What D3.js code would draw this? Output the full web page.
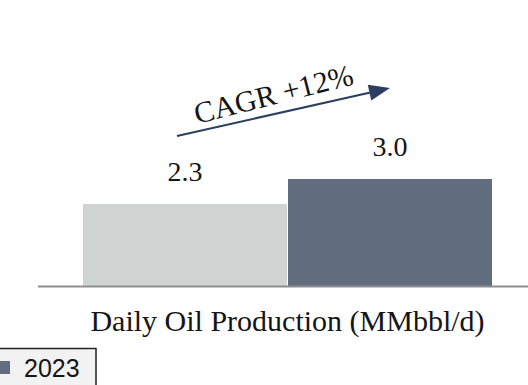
<!DOCTYPE html>
<html><head><meta charset="utf-8">
<script src="https://cdn.jsdelivr.net/npm/d3@7"></script>
<style>body{margin:0;background:#fff} svg{display:block}</style>
</head><body>
<svg id="chart" width="528" height="385"></svg>
<script>
// Daily oil production, two years side by side in one category
const categories = ["Daily Oil Production (MMbbl/d)"];
const years = ["2022", "2023"];
const values = [2.3, 3.0];
const valueLabels = ["2.3", "3.0"];
const barColors = ["#cfd3d2", "#626e80"];
const cagrText = "CAGR +12%";
const legendYears = ["2023"];

const svg = d3.select("#chart");
const W = 528, H = 385;
const serif = "'Liberation Serif', 'DejaVu Serif', serif";
const ink = "#151515";
const arrowColor = "#2b3f60";

const x = d3.scaleBand().domain(years).range([83, 492]).paddingInner(0.005);
const y = d3.scaleLinear().domain([0, 3.0]).range([286, 179]);

// bars
svg.selectAll("rect.bar").data(values).join("rect")
  .attr("class", "bar")
  .attr("x", (d, i) => x(years[i]))
  .attr("width", x.bandwidth())
  .attr("y", d => y(d))
  .attr("height", d => y(0) - y(d))
  .attr("fill", (d, i) => barColors[i]);

// baseline
svg.append("line")
  .attr("x1", 38).attr("x2", W)
  .attr("y1", y(0) + 0.5).attr("y2", y(0) + 0.5)
  .attr("stroke", "#8e8e8e").attr("stroke-width", 2);

// value labels
svg.selectAll("text.val").data(values).join("text")
  .attr("class", "val")
  .attr("x", (d, i) => x(years[i]) + x.bandwidth() / 2)
  .attr("y", d => y(d) - 23)
  .attr("text-anchor", "middle")
  .attr("font-family", serif).attr("font-size", 28)
  .attr("fill", ink)
  .text((d, i) => valueLabels[i]);

// category label
svg.append("text")
  .attr("x", (x.range()[0] + x.range()[1]) / 2)
  .attr("y", 331)
  .attr("text-anchor", "middle")
  .attr("font-family", serif).attr("font-size", 30)
  .attr("fill", ink)
  .text(categories[0]);

// growth arrow between the two bars
const x0 = x(years[0]) + x.bandwidth() / 2 - 8, y0 = y(values[0]) - 68;
const x1 = x(years[1]) + x.bandwidth() / 2, y1 = y(values[1]) - 91;
const ang = Math.atan2(y1 - y0, x1 - x0);
const headLen = 21, headHalf = 8;
svg.append("line")
  .attr("x1", x0).attr("y1", y0)
  .attr("x2", x1 - (headLen - 2) * Math.cos(ang))
  .attr("y2", y1 - (headLen - 2) * Math.sin(ang))
  .attr("stroke", arrowColor).attr("stroke-width", 2);
svg.append("path")
  .attr("d", () => {
    const bx = x1 - headLen * Math.cos(ang), by = y1 - headLen * Math.sin(ang);
    const px = -Math.sin(ang) * headHalf, py = Math.cos(ang) * headHalf;
    return `M${x1},${y1}L${bx + px},${by + py}L${bx - px},${by - py}Z`;
  })
  .attr("fill", arrowColor);

svg.append("text")
  .attr("transform", `translate(276,104) rotate(${ang * 180 / Math.PI - 1.5})`)
  .attr("text-anchor", "middle")
  .attr("font-family", serif).attr("font-size", 30)
  .attr("fill", ink)
  .text(cagrText);

// legend
const lg = svg.append("g");
lg.append("rect")
  .attr("x", -2).attr("y", 348.5).attr("width", 98).attr("height", 50)
  .attr("fill", "#f2f2f2").attr("stroke", "#222").attr("stroke-width", 1.5);
lg.selectAll("rect.sw").data(legendYears).join("rect")
  .attr("class", "sw")
  .attr("x", -3).attr("y", 361).attr("width", 13).attr("height", 13)
  .attr("fill", barColors[1]);
lg.selectAll("text").data(legendYears).join("text")
  .attr("x", 24).attr("y", 377)
  .attr("font-family", "'Liberation Sans', Arial, sans-serif").attr("font-size", 25)
  .attr("fill", ink)
  .text(d => d);
</script>
</body></html>
